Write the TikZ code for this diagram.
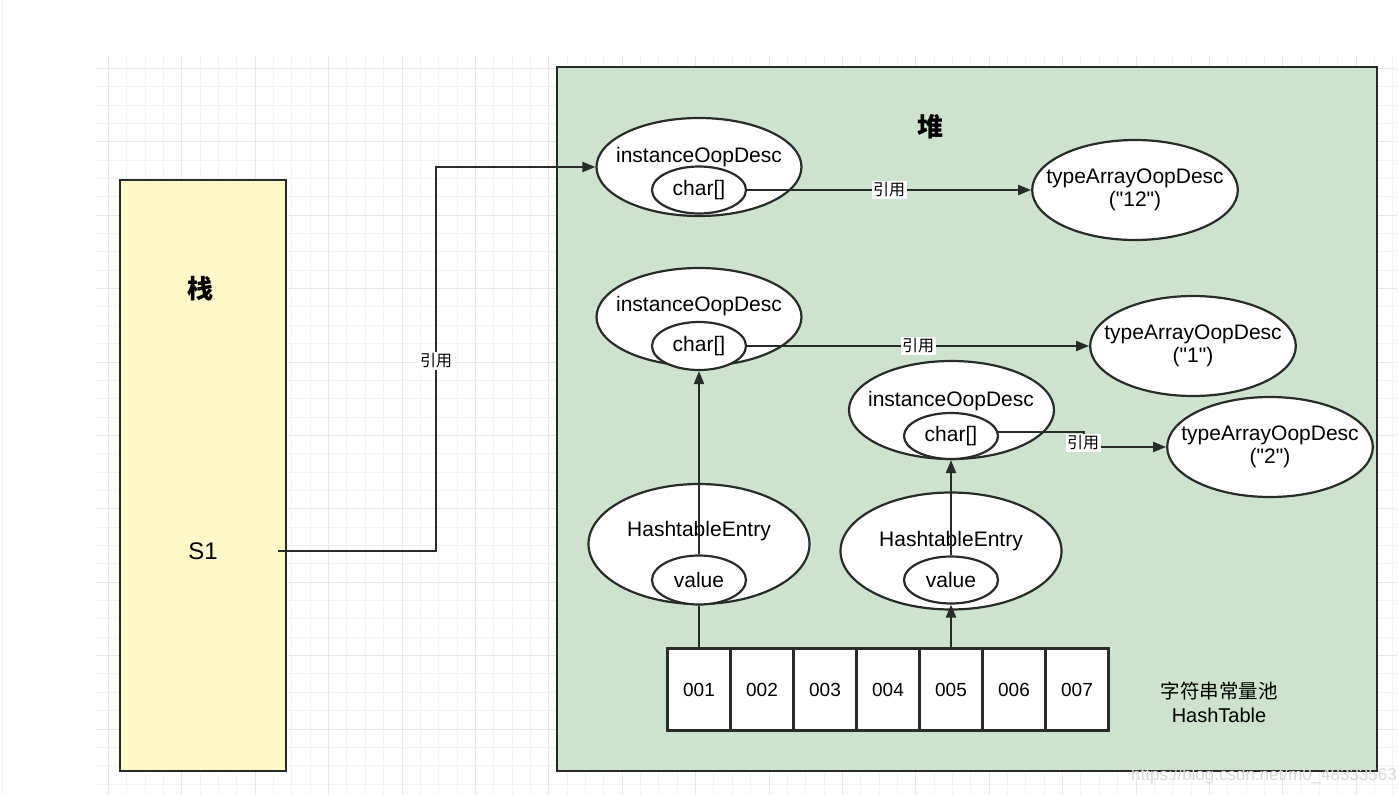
\documentclass[tikz,border=0pt]{standalone}
\usepackage{fontspec}
\setmainfont{Liberation Sans}[Ligatures=TeXOff]
\newfontfamily\cjk{Noto Sans CJK SC}
\usetikzlibrary{arrows.meta,shapes.geometric}

\definecolor{heapfill}{RGB}{205,227,205}
\definecolor{stackfill}{RGB}{255,248,200}
\definecolor{linecol}{RGB}{40,44,40}
\definecolor{gridminor}{RGB}{243,243,243}
\definecolor{gridmajor}{RGB}{231,231,231}

\tikzset{
    box/.style={draw=linecol, line width=2.2pt},
    oop/.style={ellipse, draw=linecol, line width=2.2pt, fill=white, inner sep=0pt,
        minimum width=205pt, minimum height=98pt},
    entry/.style={oop, minimum width=221pt, minimum height=117pt},
    typearr/.style={oop, inner xsep=-16pt, minimum width=204pt, minimum height=100pt,
        align=center, font=\fontsize{21}{23.5}\selectfont},
    field/.style={ellipse, draw=linecol, line width=2.2pt, fill=white, inner sep=0pt,
        minimum width=94pt, minimum height=47pt, font=\fontsize{21}{24}\selectfont},
    txt/.style={inner sep=0pt, font=\fontsize{21}{24}\selectfont},
    cell/.style={draw=linecol, line width=2.2pt, fill=white, inner sep=0pt,
        minimum width=63pt, minimum height=82pt, font=\fontsize{19}{22}\selectfont},
    arr/.style={draw=linecol, line width=2.2pt, -{Triangle[length=13pt,width=10pt]}},
    link/.style={draw=linecol, line width=2.2pt},
    tag/.style={fill=white, inner sep=1.5pt, font=\cjk\fontsize{16}{18}\selectfont},
    title/.style={font=\cjk\bfseries\fontsize{26}{28}\selectfont},
}

\begin{document}
\begin{tikzpicture}[x=1pt, y=-1pt]
    % Page size of the screenshot
    \useasboundingbox (0,0) rectangle (1398,795);
    \draw[gridminor, line width=0.8pt] (2,0) -- (2,795);

    % Background grid
    \foreach \i in {0,...,70} {
        \pgfmathsetmacro{\gx}{108.3+18.35*\i}
        \pgfmathtruncatemacro{\major}{mod(\i,4)}
        \ifnum\major=0
            \draw[gridmajor, line width=0.8pt] (\gx,56) -- (\gx,795);
        \else
            \draw[gridminor, line width=0.8pt] (\gx,56) -- (\gx,795);
        \fi
    }
    \foreach \j in {0,...,39} {
        \pgfmathsetmacro{\gy}{68.3+18.35*\j}
        \pgfmathtruncatemacro{\major}{mod(\j,4)}
        \ifnum\major=0
            \draw[gridmajor, line width=0.8pt] (95,\gy) -- (1398,\gy);
        \else
            \draw[gridminor, line width=0.8pt] (95,\gy) -- (1398,\gy);
        \fi
    }

    % Stack and heap areas
    \draw[box, fill=stackfill] (120,180) rectangle (286,771);
    \draw[box, fill=heapfill] (557,67) rectangle (1377,771);
    \node[title] (stack) at (200,289) {栈};
    \node[font=\fontsize{24}{28}\selectfont] (s1) at (203,551) {S1};
    \node[title] (heap) at (930,127) {堆};

    % String objects
    \node[oop] (inst1) at (699,167) {};
    \node[txt] (inst1t) at (699,157) {instanceOopDesc};
    \node[field] (char1) at (699,190) {char[]};
    \node[typearr] (type1) at (1135,190) {typeArrayOopDesc\\("12")};

    \node[oop] (inst2) at (699,317) {};
    \node[txt] (inst2t) at (699,306) {instanceOopDesc};
    \node[field, minimum height=48pt] (char2) at (699,346) {char[]};
    \node[typearr] (type2) at (1193,346) {typeArrayOopDesc\\("1")};

    \node[oop] (inst3) at (951.5,410) {};
    \node[txt] (inst3t) at (951,401) {instanceOopDesc};
    \node[field, minimum height=46pt] (char3) at (951,436) {char[]};
    \node[typearr] (type3) at (1270,447) {typeArrayOopDesc\\("2")};

    % Hashtable entries
    \node[entry, minimum height=120pt] (entry1) at (699,544) {};
    \node[txt] (entry1t) at (699,531) {HashtableEntry};
    \node[field, minimum height=49pt] (value1) at (699,580) {value};

    \node[entry] (entry2) at (951,551) {};
    \node[txt] (entry2t) at (951,541) {HashtableEntry};
    \node[field] (value2) at (951,580) {value};

    % String pool table
    \foreach \t [count=\i] in {001,002,003,004,005,006,007}
        \node[cell] (c\i) at ({636+63*\i}, 689.5) {\t};
    \node[align=center, font=\fontsize{20}{24}\selectfont] (pool) at (1219,702)
        {{\cjk\fontsize{19.5}{24}\selectfont 字符串常量池}\\HashTable};

    % References
    \coordinate (s1out) at (278,551);
    \draw[arr] (s1out) -- (436,551) |- (inst1.west);
    \node[tag] (ref0) at (436,361) {引用};
    \draw[arr] (char1) -- node[tag] (ref1) {引用} (type1);
    \draw[arr] (char2) -- node[tag] (ref2) {引用} (type2);
    \draw[arr] (char3.5) -- ++(86,0) |- (type3.west);
    \node[tag] (ref3) at (1083,443) {引用};
    \draw[arr] (value1) -- (char2);
    \draw[link] (c1) -- (value1);
    \draw[arr] (value2) -- (char3);
    \draw[arr] (c5) -- (value2);

    \node[text=gray!30, font=\fontsize{17}{20}\selectfont] (mark) at (1264,776)
        {https://blog.csdn.net/m0\_48333563};
\end{tikzpicture}
\end{document}
